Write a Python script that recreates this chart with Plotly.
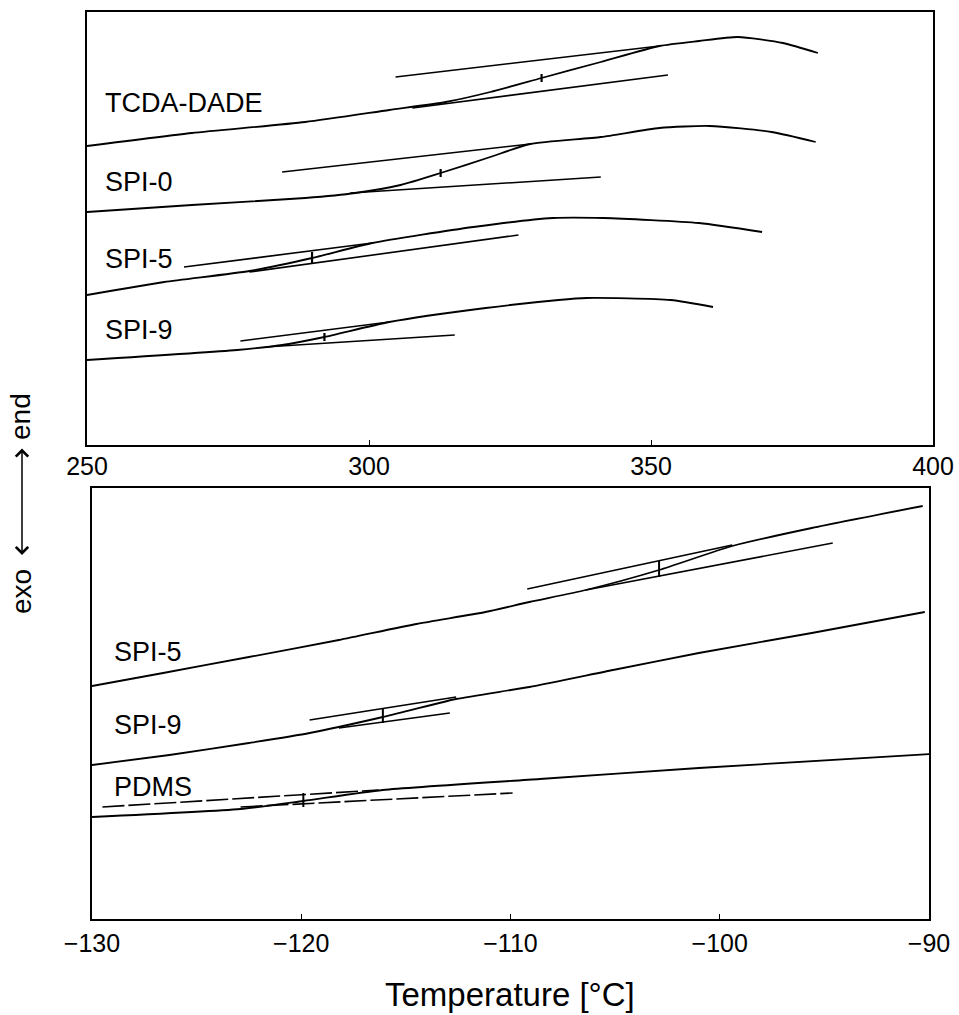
import plotly.graph_objects as go

# ---------------- upper panel: 250-400 °C ----------------
tcda_T  = [250, 268.6, 288.7, 303.6, 313.6, 321.5, 330.6, 341.1, 351.5, 358.5, 365.4, 373.4, 379.6]
tcda_hf = [29.9, 31.2, 32.3, 33.5, 34.3, 35.3, 36.7, 38.3, 39.9, 40.4, 40.8, 40.2, 39.2]
tcda_up_T, tcda_up_hf = [304.7, 351.5], [36.8, 39.9]
tcda_lo_T, tcda_lo_hf = [307.7, 353.0], [33.7, 37.0]
tcda_mid_T, tcda_mid_hf = [330.6, 330.6], [36.3, 37.1]

spi0_T  = [250, 268.6, 288.7, 297.6, 305.6, 312.7, 321.5, 328.6, 341.1, 351.5, 360.4, 371.4, 379.2]
spi0_hf = [23.3, 24.0, 24.7, 25.2, 26.0, 27.2, 28.8, 30.1, 30.8, 31.7, 31.9, 31.3, 30.3]
spi0_up_T, spi0_up_hf = [284.6, 328.6], [27.3, 30.1]
spi0_lo_T, spi0_lo_hf = [296.7, 341.1], [25.2, 26.8]
spi0_mid_T, spi0_mid_hf = [312.7, 312.7], [26.8, 27.6]

spi5_T  = [250, 263.7, 278.8, 289.9, 300.6, 318.5, 332.6, 341.6, 358.5, 369.7]
spi5_hf = [15.0, 16.3, 17.4, 18.7, 20.2, 21.8, 22.7, 22.7, 22.2, 21.3]
spi5_up_T, spi5_up_hf = [267.2, 300.6], [17.8, 20.2]
spi5_lo_T, spi5_lo_hf = [278.8, 326.5], [17.3, 21.0]
spi5_mid_T, spi5_mid_hf = [289.9, 289.9], [18.1, 19.3]

spi9_T  = [250, 276.6, 284.6, 292.1, 303.6, 320.7, 333.6, 338.6, 353.5, 361.0]
spi9_hf = [8.5, 9.5, 10.0, 10.8, 12.3, 13.7, 14.5, 14.7, 14.5, 13.8]
spi9_up_T, spi9_up_hf = [277.2, 303.6], [10.4, 12.3]
spi9_lo_T, spi9_lo_hf = [281.6, 315.2], [9.8, 11.0]
spi9_mid_T, spi9_mid_hf = [292.1, 292.1], [10.4, 11.2]

# ---------------- lower panel: -130 to -90 °C ----------------
l_spi5_T  = [-130, -126.6, -122.5, -118.2, -114.5, -111.2, -109.1, -106.4, -102.9, -99.4, -95.6, -90.3]
l_spi5_hf = [23.3, 24.6, 26.2, 27.9, 29.5, 30.7, 31.7, 32.9, 34.9, 37.3, 39.1, 41.3]
l_spi5_up_T, l_spi5_up_hf = [-109.2, -99.4], [33.0, 37.4]
l_spi5_lo_T, l_spi5_lo_hf = [-106.4, -94.6], [32.9, 37.6]
l_spi5_mid_T, l_spi5_mid_hf = [-102.9, -102.9], [34.2, 35.8]

l_spi9_T  = [-130, -126.3, -122.5, -119.6, -116.1, -112.6, -109.1, -105.1, -101.0, -95.6, -90.2]
l_spi9_hf = [15.4, 16.4, 17.6, 18.6, 20.2, 22.0, 23.2, 24.9, 26.6, 28.6, 30.7]
l_spi9_up_T, l_spi9_up_hf = [-119.6, -112.6], [19.9, 22.2]
l_spi9_lo_T, l_spi9_lo_hf = [-118.2, -112.9], [19.1, 20.6]
l_spi9_mid_T, l_spi9_mid_hf = [-116.1, -116.1], [19.6, 21.1]

pdms_T  = [-130, -122.9, -119.9, -116.1, -108.6, -101.0, -89.9]
pdms_hf = [10.2, 11.0, 11.8, 12.9, 14.0, 15.1, 16.5]
pdms_up_T, pdms_up_hf = [-129.5, -116.3], [11.2, 12.9]
pdms_lo_T, pdms_lo_hf = [-122.9, -109.9], [11.2, 12.6]
pdms_mid_T, pdms_mid_hf = [-119.9, -119.9], [11.2, 12.6]

upper_ticks = [250, 300, 350, 400]
lower_ticks = [-130, -120, -110, -100, -90]

upper_labels = ["TCDA-DADE", "SPI-0", "SPI-5", "SPI-9"]
lower_labels = ["SPI-5", "SPI-9", "PDMS"]

FONT = "Liberation Sans, Arial, Helvetica, sans-serif"
W = 959
H = 1015

fig = go.Figure()


def add_line(x, y, axis, width=1.8, shape="spline", dash="solid"):
    xa, ya = ("x", "y") if axis == 1 else ("x2", "y2")
    fig.add_trace(go.Scatter(
        x=x, y=y, mode="lines", xaxis=xa, yaxis=ya,
        line=dict(color="black", width=width, shape=shape, smoothing=0.6, dash=dash),
        showlegend=False, hoverinfo="skip"))


upper = [
    (tcda_T, tcda_hf, tcda_up_T, tcda_up_hf, tcda_lo_T, tcda_lo_hf, tcda_mid_T, tcda_mid_hf),
    (spi0_T, spi0_hf, spi0_up_T, spi0_up_hf, spi0_lo_T, spi0_lo_hf, spi0_mid_T, spi0_mid_hf),
    (spi5_T, spi5_hf, spi5_up_T, spi5_up_hf, spi5_lo_T, spi5_lo_hf, spi5_mid_T, spi5_mid_hf),
    (spi9_T, spi9_hf, spi9_up_T, spi9_up_hf, spi9_lo_T, spi9_lo_hf, spi9_mid_T, spi9_mid_hf),
]
for cx, cy, ux, uy, lx, ly, mx, my in upper:
    add_line(cx, cy, 1)
    add_line(ux, uy, 1, width=1.6, shape="linear")
    add_line(lx, ly, 1, width=1.6, shape="linear")
    add_line(mx, my, 1, width=2.2, shape="linear")

lower = [
    (l_spi5_T, l_spi5_hf, l_spi5_up_T, l_spi5_up_hf, l_spi5_lo_T, l_spi5_lo_hf, l_spi5_mid_T, l_spi5_mid_hf, "solid"),
    (l_spi9_T, l_spi9_hf, l_spi9_up_T, l_spi9_up_hf, l_spi9_lo_T, l_spi9_lo_hf, l_spi9_mid_T, l_spi9_mid_hf, "solid"),
    (pdms_T, pdms_hf, pdms_up_T, pdms_up_hf, pdms_lo_T, pdms_lo_hf, pdms_mid_T, pdms_mid_hf, "22px,4px"),
]
for cx, cy, ux, uy, lx, ly, mx, my, d in lower:
    add_line(cx, cy, 2)
    add_line(ux, uy, 2, width=1.6, shape="linear", dash=d)
    add_line(lx, ly, 2, width=1.6, shape="linear", dash=d)
    add_line(mx, my, 2, width=2.0, shape="linear")

axis_common = dict(showline=True, linecolor="black", linewidth=2, mirror=True,
                   showgrid=False, zeroline=False, automargin=False)

fig.update_layout(
    width=W, height=H,
    margin=dict(l=0, r=0, t=0, b=0, pad=0, autoexpand=False),
    paper_bgcolor="white", plot_bgcolor="white",
    font=dict(family=FONT, color="black"),
    xaxis=dict(domain=[87 / W, 933 / W], range=[250, 400], anchor="y",
               tickvals=upper_ticks, ticks="inside", ticklen=5, tickcolor="black",
               tickfont=dict(size=25, family=FONT), ticklabelstandoff=-2, **axis_common),
    yaxis=dict(domain=[1 - 445 / H, 1 - 12 / H], range=[0, 43.3], anchor="x",
               showticklabels=False, ticks="", **axis_common),
    xaxis2=dict(domain=[92 / W, 929 / W], range=[-130, -90], anchor="y2",
                tickvals=lower_ticks, ticks="inside", ticklen=5, tickcolor="black",
                tickfont=dict(size=25, family=FONT), ticklabelstandoff=1, **axis_common),
    yaxis2=dict(domain=[1 - 919 / H, 1 - 488 / H], range=[0, 43.1], anchor="x2",
                showticklabels=False, ticks="", **axis_common),
)

# sample labels
upper_label_y = [103, 182, 259, 330]
for txt, py in zip(upper_labels, upper_label_y):
    fig.add_annotation(text=txt, x=103 / W, y=1 - py / H, xref="paper", yref="paper",
                       xanchor="left", yanchor="middle", showarrow=False,
                       font=dict(size=27, family=FONT))
lower_label_y = [652, 725, 787]
for txt, py in zip(lower_labels, lower_label_y):
    fig.add_annotation(text=txt, x=112 / W, y=1 - py / H, xref="paper", yref="paper",
                       xanchor="left", yanchor="middle", showarrow=False,
                       font=dict(size=27, family=FONT))

# axis title
fig.add_annotation(text="Temperature [°C]", x=510 / W, y=1 - 994 / H, xref="paper", yref="paper",
                   xanchor="center", yanchor="middle", showarrow=False,
                   font=dict(size=33, family=FONT))

# exo <-> end
fig.add_annotation(text="end", x=21 / W, y=1 - 417 / H, xref="paper", yref="paper",
                   textangle=-90, xanchor="center", yanchor="middle", showarrow=False,
                   font=dict(size=28, family=FONT))
fig.add_annotation(text="exo", x=21 / W, y=1 - 592 / H, xref="paper", yref="paper",
                   textangle=-90, xanchor="center", yanchor="middle", showarrow=False,
                   font=dict(size=28, family=FONT))
fig.add_annotation(text="", x=22 / W, y=1 - 555 / H, ax=0, ay=-108,
                   xref="paper", yref="paper", axref="pixel", ayref="pixel",
                   showarrow=True, arrowside="end+start", arrowhead=4, arrowsize=1.6,
                   arrowwidth=1.5, arrowcolor="black")

fig.write_html("out.html",
               config={"displayModeBar": False},
               post_script="document.body.style.margin='0';document.body.style.padding='0';")
